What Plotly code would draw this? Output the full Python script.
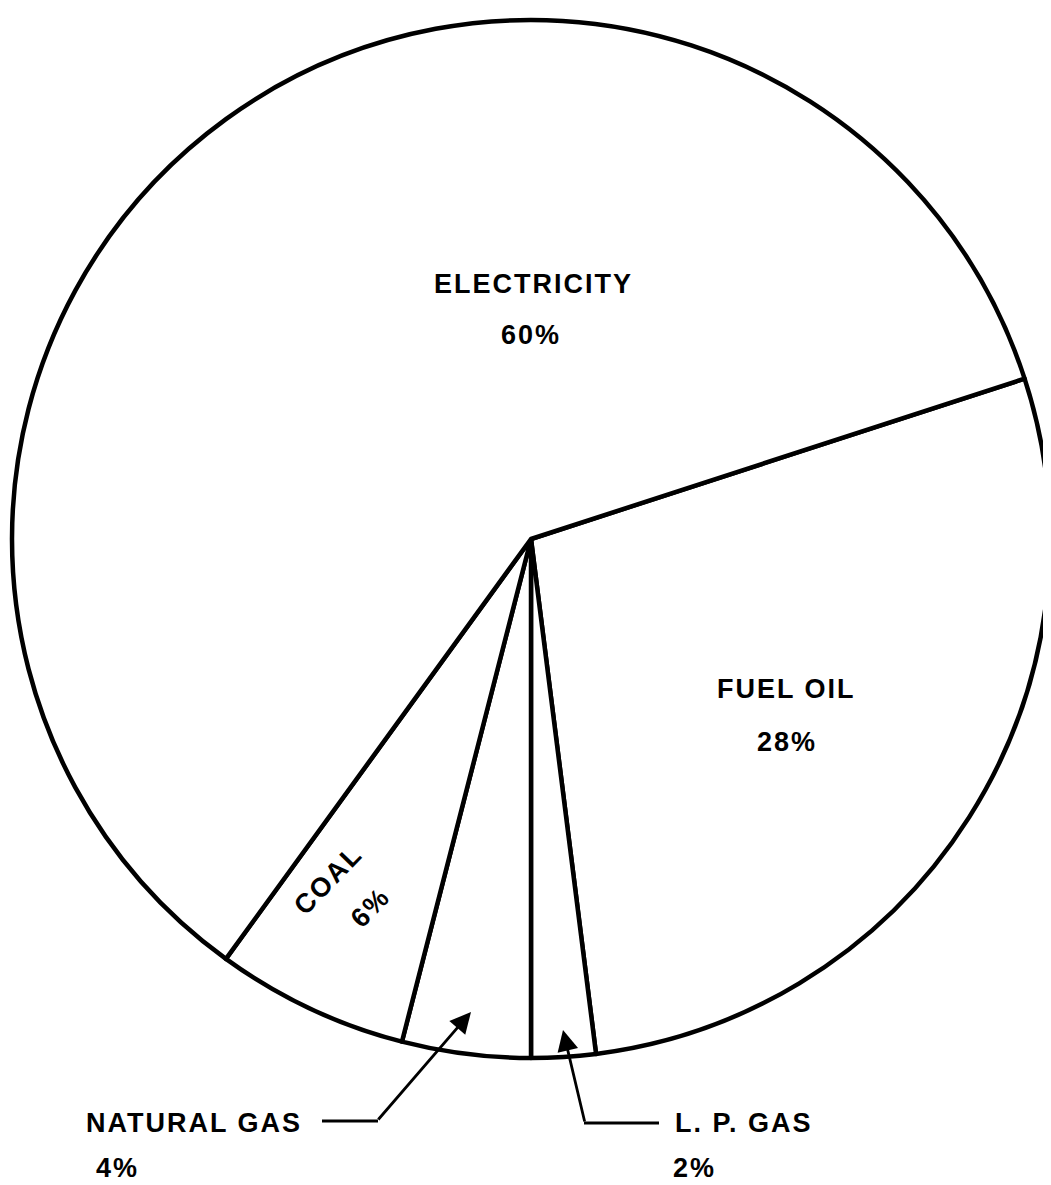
import plotly.graph_objects as go

# ---- data ----
categories = ["FUEL OIL", "L. P. GAS", "NATURAL GAS", "COAL", "ELECTRICITY"]
shares = [28, 2, 4, 6, 60]
pct_labels = ["28%", "2%", "4%", "6%", "60%"]

PAGE_MARGIN = 8          # browser default body margin
W, H = 1051 - PAGE_MARGIN, 1185 - PAGE_MARGIN
CX, CY, R = 531, 539, 519   # in reference (page) pixels


def px(x):
    return (x - PAGE_MARGIN) / W


def py(y):
    return 1 - (y - PAGE_MARGIN) / H


FONT = dict(family="Liberation Sans, Arial, Helvetica, sans-serif", size=27, color="black")


def spaced(s):
    return '<span style="letter-spacing:2px">' + s + "</span>"


fig = go.Figure(
    go.Pie(
        labels=categories,
        values=shares,
        sort=False,
        direction="clockwise",
        rotation=72,
        textinfo="none",
        hoverinfo="label+percent",
        marker=dict(colors=["white"] * 5, line=dict(color="black", width=4.5)),
        domain=dict(x=[px(CX - R), px(CX + R)], y=[py(CY + R), py(CY - R)]),
        showlegend=False,
    )
)

ann = []


def label(text, x, y, xanchor="center", angle=0):
    ann.append(
        dict(
            text="<b>" + spaced(text) + "</b>",
            x=px(x), y=py(y), xref="paper", yref="paper",
            xanchor=xanchor, yanchor="middle", showarrow=False,
            textangle=angle, font=FONT,
        )
    )


label(categories[4], 533, 284)
label(pct_labels[4], 531, 335)
label(categories[0], 786, 689)
label(pct_labels[0], 787, 742)
label(categories[3], 328, 880, angle=-46)
label(pct_labels[3], 370, 908, angle=-46)
label(categories[2], 84, 1123, xanchor="left")
label(pct_labels[2], 94, 1168, xanchor="left")
label(categories[1], 673, 1123, xanchor="left")
label(pct_labels[1], 671, 1168, xanchor="left")

# arrows (tail at elbow, head inside slice)
for tip, elbow in [((471, 1012), (377, 1121)), ((563, 1030), (585, 1123))]:
    ann.append(
        dict(
            text="", x=px(tip[0]), y=py(tip[1]), xref="paper", yref="paper",
            ax=elbow[0] - tip[0], ay=elbow[1] - tip[1], axref="pixel", ayref="pixel",
            showarrow=True, arrowhead=2, arrowsize=1.5, arrowwidth=2.8, arrowcolor="black",
            standoff=0, startstandoff=0,
        )
    )

shapes = [
    dict(type="line", xref="paper", yref="paper", x0=px(322), y0=py(1121), x1=px(378), y1=py(1121),
         line=dict(color="black", width=3)),
    dict(type="line", xref="paper", yref="paper", x0=px(584), y0=py(1123), x1=px(659), y1=py(1123),
         line=dict(color="black", width=3)),
]

fig.update_layout(
    width=W, height=H,
    margin=dict(l=0, r=0, t=0, b=0),
    paper_bgcolor="white", plot_bgcolor="white",
    annotations=ann, shapes=shapes,
)

fig.write_html("out.html")
